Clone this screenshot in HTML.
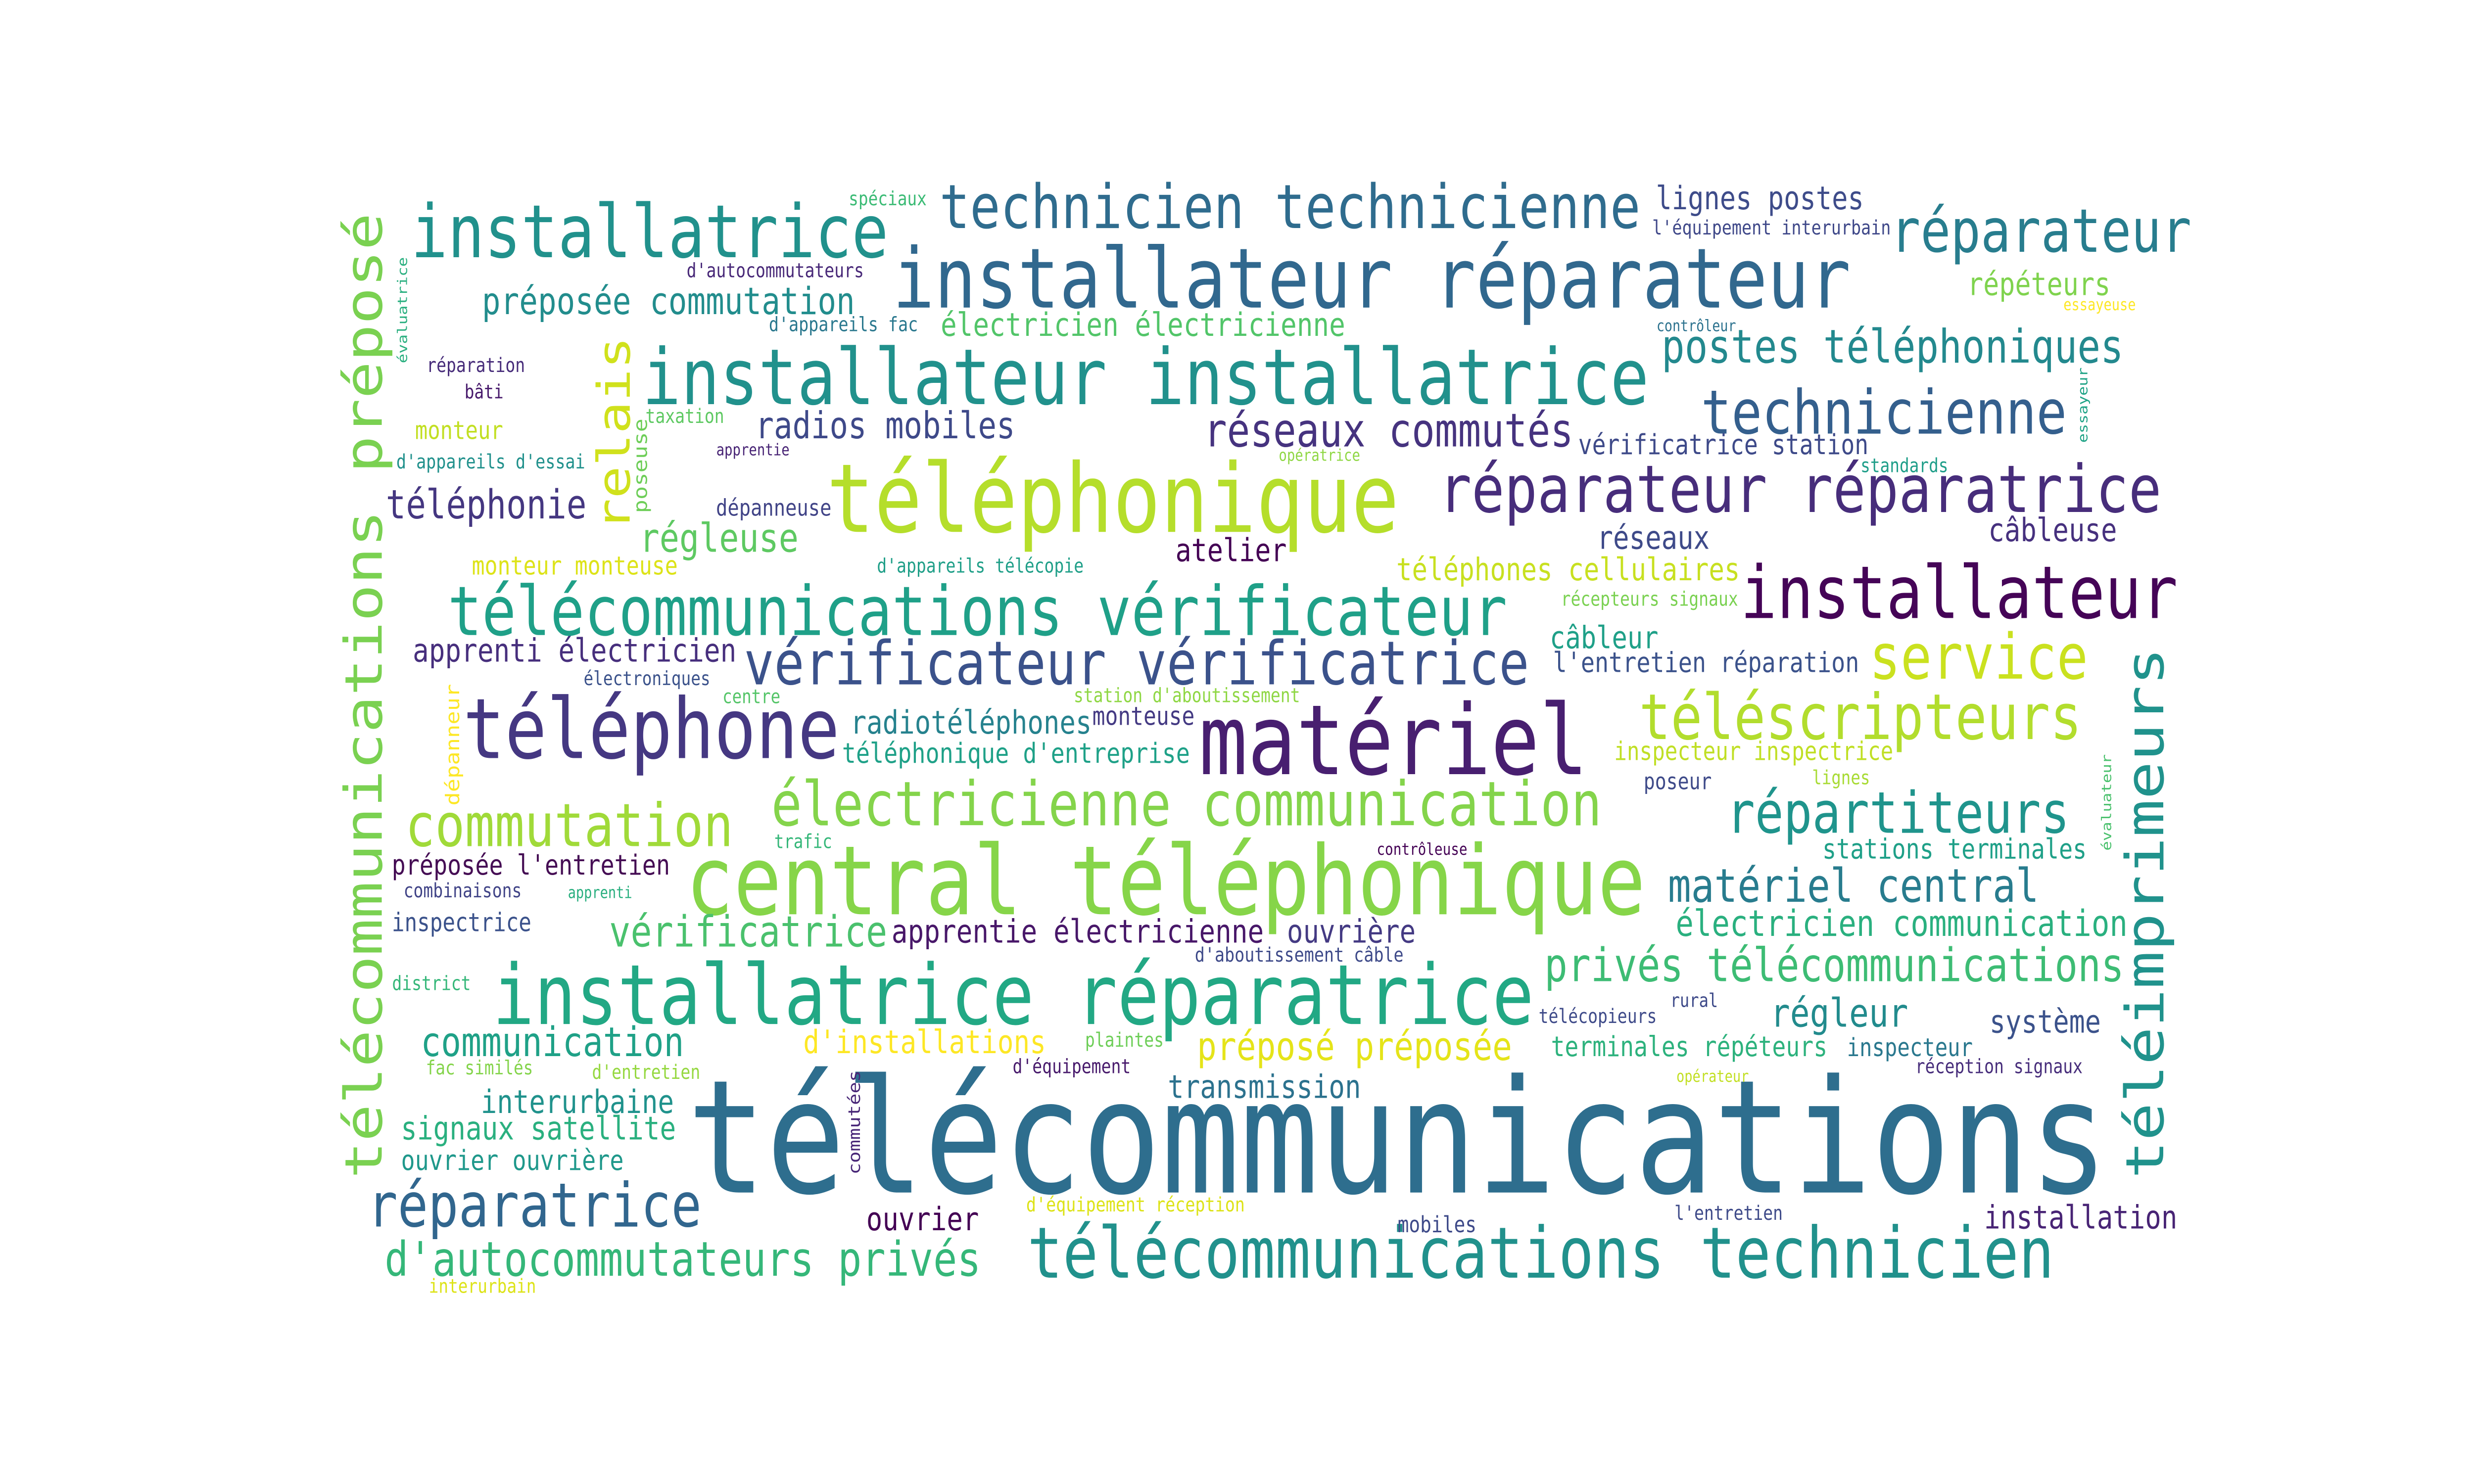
<!DOCTYPE html>
<html><head><meta charset="utf-8">
<style>
html,body{margin:0;padding:0;background:#fff;overflow:hidden;width:100%;height:100%;}
svg{display:block;width:100vw;height:100vh;}
text{font-family:"DejaVu Sans Mono","Liberation Mono",monospace;}
</style></head>
<body>
<svg id="cloud" viewBox="0 0 1568 784" preserveAspectRatio="none" xmlns="http://www.w3.org/2000/svg">
<rect width="1568" height="784" fill="#ffffff"/>
<g id="words"></g>
</svg>
<script>
const words = ["télécommunications","central téléphonique","matériel","téléphonique","installatrice réparatrice","installateur réparateur","installateur installatrice","télécommunications vérificateur","téléphone","télécommunications technicien","installatrice","technicien technicienne","réparateur","installateur","réparateur réparatrice","technicienne","vérificateur vérificatrice","électricienne communication","commutation","téléscripteurs","service","répartiteurs","réparatrice","téléimprimeurs","télécommunications préposé","relais","privés télécommunications","matériel central","postes téléphoniques","réseaux commutés","radios mobiles","préposée commutation","électricien électricienne","lignes postes","l'équipement interurbain","répéteurs","essayeuse","contrôleur","vérificatrice station","standards","essayeur","téléphonie","régleuse","dépanneuse","apprentie","taxation","opératrice","atelier","câbleuse","réseaux","spéciaux","d'autocommutateurs","d'appareils fac","évaluatrice","réparation","bâti","monteur","d'appareils d'essai","poseuse","monteur monteuse","d'appareils télécopie","apprenti électricien","électroniques","centre","radiotéléphones","téléphonique d'entreprise","dépanneur","électricien communication","trafic","préposée l'entretien","combinaisons","apprenti","inspectrice","vérificatrice","apprentie électricienne","ouvrière","district","communication","d'installations","fac similés","d'entretien","interurbaine","signaux satellite","ouvrier ouvrière","commutées","ouvrier","d'autocommutateurs privés","interurbain","téléphones cellulaires","récepteurs signaux","câbleur","l'entretien réparation","station d'aboutissement","monteuse","inspecteur inspectrice","poseur","lignes","évaluateur","stations terminales","rural","télécopieurs","régleur","système","terminales répéteurs","inspecteur","réception signaux","opérateur","l'entretien","installation","contrôleuse","d'aboutissement câble","plaintes","préposé préposée","d'équipement","transmission","d'équipement réception","mobiles"];
const weights = [83.4,50.7,51.4,50.4,44,44,40.9,36.1,44.2,37.4,38.8,32.2,31.8,38.5,34.7,32.2,31.9,32.5,31.5,33.4,33,30.2,32.1,33.4,32.7,28.5,24.5,24.5,24.4,24.4,19.6,19.7,17.1,16.9,10.5,16.8,8.5,8.4,14.6,10.3,8.3,21.2,21,12.2,8.6,10.4,8.6,16.8,17,17,10.3,10.4,10.5,8.5,10.4,10.3,13.3,10.5,11.9,13.6,10.4,17.1,10.3,10.2,17,14.7,11.9,19.1,10.2,14.7,10.4,8.5,13.4,22.6,17.1,17,10.4,21.4,17.1,10.3,10.4,17,17.1,14.7,10.2,17,25.2,10.3,16.5,10.4,16.4,14.7,10.4,13.5,13.4,12,10.2,8.5,14.7,10.1,10.4,20.8,16.8,14.6,13.3,10.4,8.5,10.4,17,8.7,10.5,10.4,20.8,10.4,17,10.5,11.9];
const colors = ["#2e6e8e","#86d549","#481f70","#b5de2b","#22a884","#31688e","#21918c","#1fa088","#453882","#21918c","#21918c","#2f6c8e","#287d8e","#450457","#472d7b","#345f8d","#3b528b","#84d44b","#a0da39","#b2dd2d","#cae11f","#1f948c","#31668e","#20928c","#7ad151","#d0e11c","#3dbc74","#287c8e","#23898e","#46337f","#3e4989","#228d8d","#52c569","#3e4c8a","#3f4889","#7fd34e","#fde725","#2c728e","#3e4a89","#1f9e89","#20a386","#453781","#5ec962","#414487","#482475","#5ec962","#8fd744","#440154","#46307e","#3e4a89","#3bbb75","#482878","#2a788e","#29af7f","#472c7a","#481a6c","#c2df23","#21918c","#6ece58","#dde318","#1f9f88","#472f7d","#3b528b","#54c568","#26828e","#1fa188","#fde725","#2ab07f","#35b779","#450d54","#414487","#29af7f","#3b528b","#4ac16d","#481769","#443a83","#35b779","#1fa187","#fde725","#84d44b","#95d840","#20928c","#2ab07f","#1f988b","#482677","#440154","#35b779","#dde318","#c8e020","#7ad151","#1fa088","#3b528b","#8fd744","#443a83","#c0df25","#3e4a89","#a8db34","#4ac16d","#1fa088","#3e4a89","#3e4a89","#228b8d","#3b528b","#2db27d","#2a788e","#472d7b","#c2df23","#3e4a89","#482475","#440154","#3e4a89","#6ece58","#e5e419","#481a6c","#2c728e","#dde318","#3e4a89"];
const layout = [[439.7,630,0],[437.1,483,0],[762.4,409,0],[526.4,281,0],[314.4,541,0],[568,162.5,0],[409.1,213.5,0],[285.6,335.5,0],[295.7,400.5,0],[653,675,0],[262.4,135.9,0],[597,120.5,0],[1199.7,133,0],[1105,326.5,0],[913.6,270.5,0],[1079.7,229,0],[473.1,361.5,0],[490.4,436,0],[258.4,447,0],[1040.5,390.5,0],[1186.4,358.5,0],[1095.7,440,0],[234.4,648,0],[1371,621,1],[242,621,1],[399,279,1],[980,518.4,0],[1058.3,476.4,0],[1054.3,191.5,0],[764.2,235.9,0],[479.7,231.5,0],[306.4,165.9,0],[597,177.5,0],[1050.3,110.5,0],[1047.7,123.9,0],[1247.7,155.9,0],[1308.2,163.9,0],[1050.3,175,0],[1001,239.9,0],[1179.7,249.5,0],[1323,233.5,1],[245.6,273.9,0],[406.4,291.5,0],[454.4,272.5,0],[454.4,240.5,0],[409.6,223.5,0],[810.9,243.5,0],[745.8,296.5,0],[1261,285.9,0],[1013,289.9,0],[538.4,108.5,0],[435.7,146.5,0],[487.8,175,0],[258,191.5,1],[270.9,196.5,0],[294.9,210.5,0],[263.7,231.9,0],[251.7,247.5,0],[410,270.5,1],[299.7,303.5,0],[556.3,302.5,0],[262.4,349.5,0],[370.4,361.9,0],[458.4,371.5,0],[539.8,387.5,0],[534.4,403,0],[291,425,1],[1062.9,494.4,0],[491.2,448,0],[249,462,0],[256.3,474,0],[360.3,474.4,0],[249,492,0],[387.2,500,0],[565.9,498,0],[816.5,498,0],[249,523,0],[267.7,558,0],[509.9,556.4,0],[270.4,567.6,0],[375.7,570,0],[305.6,588,0],[254.9,602,0],[254.9,618,0],[545,620,1],[549.9,650,0],[245,674,0],[272.3,683,0],[885.8,306.5,0],[989.8,320,0],[983,342.5,0],[985,355,0],[681,371,0],[693,383,0],[1023.7,401.5,0],[1042.3,417,0],[1149,414.4,0],[1338,449,1],[1155.7,453.6,0],[1059.1,532,0],[975.7,540.4,0],[1123.1,542.4,0],[1261.8,545.6,0],[983.7,558,0],[1171.2,558,0],[1214.4,567,0],[1062.9,571.6,0],[1061.8,644.4,0],[1258.4,649,0],[873,451.6,0],[757.8,508,0],[688.2,553,0],[759.7,560,0],[642.3,567,0],[741,580,0],[650.9,640,0],[886.4,651,0]];

const g = document.getElementById('words');
const NS = 'http://www.w3.org/2000/svg';
function slug(s){return s.normalize('NFD').replace(/[\u0300-\u036f]/g,'').toLowerCase().replace(/[^a-z0-9]+/g,'-').replace(/^-|-$/g,'');}
for (let i = 0; i < words.length; i++) {
  const w = words[i], s = weights[i], L = layout[i];
  const t = document.createElementNS(NS, 'text');
  const adv = 0.6 * w.length * s;
  t.setAttribute('font-size', s.toFixed(2));
  t.setAttribute('fill', colors[i]);
  t.setAttribute('textLength', adv.toFixed(2));
  t.setAttribute('lengthAdjust', 'spacingAndGlyphs');
  if (L[2]) {
    t.setAttribute('x', L[0]);
    t.setAttribute('y', L[1]);
    t.setAttribute('transform', 'rotate(-90 ' + L[0] + ' ' + L[1] + ') translate(' + (-0.05 * s) + ' 0)');
  } else {
    t.setAttribute('x', (L[0] - 0.05 * s).toFixed(2));
    t.setAttribute('y', L[1]);
  }
  t.textContent = w;
  
  
  g.appendChild(t);
}
</script>
</body></html>
